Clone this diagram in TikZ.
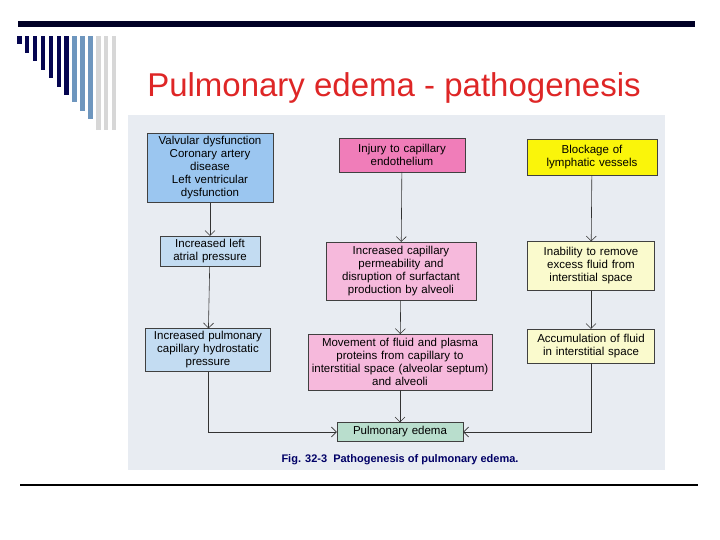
\documentclass[tikz,border=0pt]{standalone}
\usepackage{fontspec}
\setmainfont{Liberation Sans}
\usetikzlibrary{arrows.meta}
\definecolor{titlered}{RGB}{222,38,38}
\definecolor{navy}{RGB}{5,5,80}
\definecolor{steel}{RGB}{110,150,190}
\definecolor{paleg}{RGB}{215,215,215}
\definecolor{paper}{RGB}{232,236,242}
\definecolor{blueA}{RGB}{155,198,240}
\definecolor{blueB}{RGB}{195,220,242}
\definecolor{pinkA}{RGB}{240,125,185}
\definecolor{pinkB}{RGB}{246,185,220}
\definecolor{yellowA}{RGB}{250,245,10}
\definecolor{yellowB}{RGB}{250,250,205}
\definecolor{greenA}{RGB}{185,222,205}
\tikzset{
  box/.style={draw=black!75, thin, align=center, inner xsep=2pt, font=\fontsize{11.5}{13}\selectfont},
  flow/.style={draw=black!80, semithick, -{Straight Barb[length=5pt]}}
}
\begin{document}
\begin{tikzpicture}[x=1pt, y=1pt]
	\useasboundingbox (0,-540) rectangle (720,0);
	% slide decoration
	\fill[black!85!blue] (18,-21) rectangle (695,-27);
	\foreach \i/\e in {0/44,1/53,2/61,3/70,4/78,5/87,6/95}
		\fill[navy] (17+7.9*\i,-36) rectangle (21.5+7.9*\i,-\e);
	\foreach \i/\e in {7/102,8/111,9/119}
		\fill[steel] (17+7.9*\i,-36) rectangle (21.5+7.9*\i,-\e);
	\foreach \i in {10,11,12}
		\fill[paleg] (17+7.9*\i,-36) rectangle (21.5+7.9*\i,-130);
	\draw[black, line width=1.5pt] (20,-485) -- (698,-485);
	\node[titlered, font=\fontsize{33}{36}\selectfont] (title) at (394,-88) {Pulmonary edema - pathogenesis};
	% figure
	\fill[paper] (128,-115) rectangle (665,-470);
	\node[box, fill=blueA, text width=122pt, inner ysep=3pt] (b1) at (210,-168) {Valvular dysfunction\\Coronary artery\\disease\\Left ventricular\\dysfunction};
	\node[box, fill=blueB, text width=96pt, inner ysep=3pt] (b2) at (210,-251) {Increased left\\atrial pressure};
	\node[box, fill=blueB, text width=121pt, inner ysep=3pt] (b3) at (208,-350) {Increased pulmonary\\capillary hydrostatic\\pressure};
	\node[box, fill=pinkA, text width=122pt, inner ysep=6pt] (p1) at (402,-155) {Injury to capillary\\endothelium};
	\node[box, fill=pinkB, text width=146pt, inner ysep=4pt] (p2) at (401,-271) {Increased capillary\\permeability and\\disruption of surfactant\\production by alveoli};
	\node[box, fill=pinkB, text width=180pt, inner ysep=4pt] (p3) at (400,-362) {Movement of fluid and plasma\\proteins from capillary to\\interstitial space (alveolar septum)\\and alveoli};
	\node[box, fill=yellowA, text width=126pt, inner ysep=6pt] (y1) at (592,-157) {Blockage of\\lymphatic vessels};
	\node[box, fill=yellowB, text width=123pt, inner ysep=6pt] (y2) at (591,-266) {Inability to remove\\excess fluid from\\interstitial space};
	\node[box, fill=yellowB, text width=123pt, inner ysep=5pt] (y3) at (591,-346) {Accumulation of fluid\\in interstitial space};
	\node[box, fill=greenA, text width=122pt, inner ysep=4pt] (edema) at (400,-432) {Pulmonary edema};
	\node[font=\fontsize{11}{13}\selectfont\bfseries\rmfamily, text=blue!40!black] (cap) at (400,-460) {\textsc{Fig.} 32-3\ \ Pathogenesis of pulmonary edema.};
	\draw[flow] (b1) -- (b2);
	\draw[flow] (b2) -- (b3);
	\draw[flow] (p1) -- (p2);
	\draw[flow] (p2) -- (p3);
	\draw[flow] (p3) -- (edema);
	\draw[flow] (y1) -- (y2);
	\draw[flow] (y2) -- (y3);
	\draw[flow] (b3.south) |- (edema.west);
	\draw[flow] (y3.south) |- (edema.east);
\end{tikzpicture}
\end{document}
